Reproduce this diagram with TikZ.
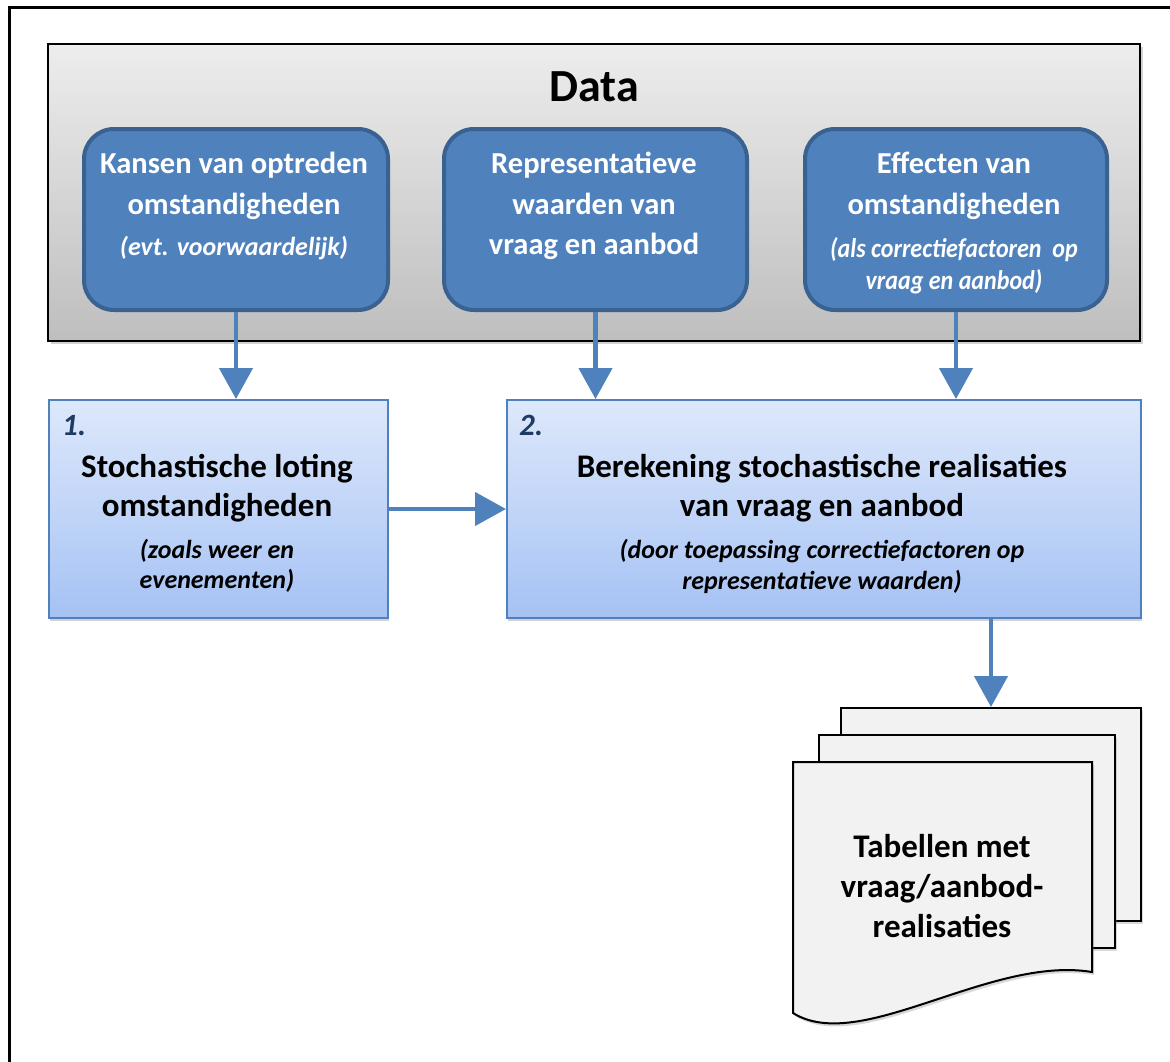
\documentclass[tikz,border=0pt]{standalone}
\usepackage{fontspec}
\setmainfont{Carlito}
\usetikzlibrary{arrows.meta,shadows}
\definecolor{boxblue}{HTML}{4F81BD}
\definecolor{boxedge}{HTML}{3A6291}
\definecolor{arrowblue}{HTML}{4F81BD}
\definecolor{steptop}{HTML}{DDE8FB}
\definecolor{stepbot}{HTML}{A5C2F4}
\definecolor{numblue}{HTML}{1F3A63}
\definecolor{pagefill}{HTML}{F2F2F2}
\definecolor{datatop}{HTML}{EDEDED}
\definecolor{databot}{HTML}{BEBEBE}
\begin{document}
\begin{tikzpicture}[x=1pt,y=-1pt,
  databox/.style={draw=black, line width=2pt, top color=datatop, bottom color=databot,
    inner sep=0pt, anchor=north west,
    drop shadow={opacity=0.35, shadow xshift=3pt, shadow yshift=-3pt}},
  bluebox/.style={draw=boxedge, line width=4pt, fill=boxblue, rounded corners=30pt,
    inner sep=0pt, anchor=north west, minimum height=181pt},
  stepbox/.style={draw=boxblue, line width=2pt, top color=steptop, bottom color=stepbot,
    inner sep=0pt, anchor=north west, minimum height=218pt,
    drop shadow={opacity=0.35, shadow xshift=1pt, shadow yshift=-3pt}},
  pagebox/.style={draw=black, line width=2pt, fill=pagefill, inner sep=0pt,
    anchor=north west, minimum width=298pt, minimum height=213pt,
    drop shadow={opacity=0.3, shadow xshift=2pt, shadow yshift=-3pt}},
  wt/.style={text=white, font=\fontsize{30.5}{36}\selectfont\bfseries, anchor=base, inner sep=0pt},
  wi/.style={text=white, font=\fontsize{26}{30}\selectfont\bfseries\itshape, anchor=base, inner sep=0pt},
  wic/.style={text=white, font=\fontsize{27}{30}\selectfont\bfseries\itshape, anchor=base, inner sep=0pt, xscale=0.89},
  bt/.style={text=black, font=\fontsize{33}{38}\selectfont\bfseries, anchor=base, inner sep=0pt},
  bi/.style={text=black, font=\fontsize{26}{30}\selectfont\bfseries\itshape, anchor=base, inner sep=0pt},
  num/.style={text=numblue, font=\fontsize{31}{36}\selectfont\bfseries\itshape, anchor=base west, inner sep=0pt},
  flow/.style={draw=arrowblue, line width=4.5pt, -{Triangle[width=33pt,length=31pt]}}]
\useasboundingbox (0,0) rectangle (1170,1061);
\fill[white] (0,0) rectangle (1170,1061);
\draw[line width=3pt] (9.5,1062) -- (9.5,7) -- (1171,7);

% Data panel
\node[databox, minimum width=1092pt, minimum height=297pt] (data) at (47,43) {};
\node[text=black, font=\fontsize{46}{52}\selectfont\bfseries, anchor=base, inner sep=0pt] (datat) at (594,101) {Data};

% blue data boxes
\node[bluebox, minimum width=304pt] (kans) at (82,127) {};
\node[bluebox, minimum width=303pt] (repr) at (442,127) {};
\node[bluebox, minimum width=302pt] (eff) at (803,127) {};

\node[wt] (k1) at (234,173) {Kansen van optreden};
\node[wt] (k2) at (234,214) {omstandigheden};
\node[wi] (k3) at (234,255) {(evt. voorwaardelijk)};

\node[wt] (r1) at (594,173) {Representatieve};
\node[wt] (r2) at (594,214) {waarden van};
\node[wt] (r3) at (594,254) {vraag en aanbod};

\node[wt] (e1) at (954,173) {Effecten van};
\node[wt] (e2) at (954,214) {omstandigheden};
\node[wic] (e3) at (954,257) {(als correctiefactoren\ \ op};
\node[wic] (e4) at (954,289) {vraag en aanbod)};

% step boxes
\node[stepbox, minimum width=339pt] (s1) at (48,399) {};
\node[stepbox, minimum width=634pt] (s2) at (506,399) {};

\node[num] (n1) at (62,435) {1.};
\node[bt] (s1a) at (217,477) {Stochastische loting};
\node[bt] (s1b) at (217,516) {omstandigheden};
\node[bi] (s1c) at (217,558) {(zoals weer en};
\node[bi] (s1d) at (217,588) {evenementen)};

\node[num] (n2) at (519,435) {2.};
\node[bt] (s2a) at (822,477) {Berekening stochastische realisaties};
\node[bt] (s2b) at (822,516) {van vraag en aanbod};
\node[bi] (s2c) at (822,558) {(door toepassing correctiefactoren op};
\node[bi] (s2d) at (822,589) {representatieve waarden)};

% document stack
\node[pagebox, minimum width=300pt] (pg3) at (840,707) {};
\node[pagebox, minimum width=296pt] (pg2) at (818,734) {};
\draw[draw=black, line width=2pt, fill=pagefill,
  drop shadow={opacity=0.3, shadow xshift=2pt, shadow yshift=-3pt}]
  (793,762) -- (1092,762) -- (1092,972) .. controls (990,955) and (860,1055) .. (793,1013) -- cycle;
\node[bt] (d1) at (942,857) {Tabellen met};
\node[bt] (d2) at (942,897) {vraag/aanbod-};
\node[bt] (d3) at (942,937) {realisaties};

% connectors
\draw[flow] (kans.south) -- (kans.south |- s1.north);
\draw[flow] (repr.south) -- (repr.south |- s2.north);
\draw[flow] (eff.south) -- (eff.south |- s2.north);
\draw[flow] (s1.east) -- (s1.east -| s2.west);
\draw[flow] (pg3.north |- s2.south) -- (pg3.north);
\end{tikzpicture}
\end{document}
